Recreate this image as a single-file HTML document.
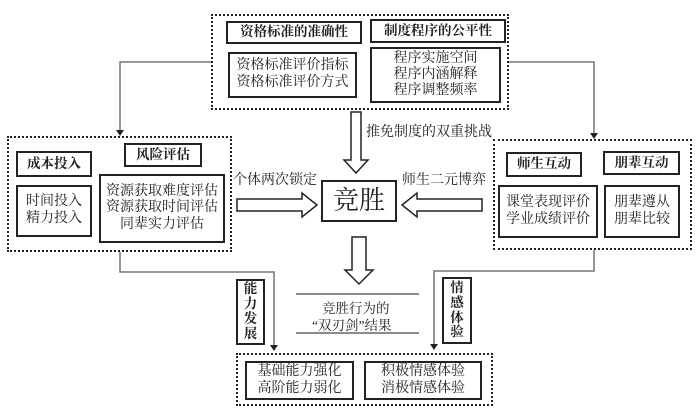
<!DOCTYPE html>
<html><head><meta charset="utf-8"><style>
body{margin:0;width:700px;height:420px;background:#fff;position:relative;overflow:hidden;font-family:"Liberation Serif","Noto Serif CJK SC",serif;color:#222}
.a{position:absolute;box-sizing:border-box}
.dot{border:2px dotted #222}
.b{border:2px solid #222;display:flex;align-items:center;justify-content:center;text-align:center;line-height:1.2;font-size:14px}
.h{font-weight:bold;font-size:13.5px}
.t{position:absolute;font-size:14px;white-space:nowrap}
</style></head><body>
<svg class="a" style="left:0;top:0" width="700" height="420">
<g stroke="#777" stroke-width="1.5" fill="none">
<polyline points="211,62 120,62 120,132"/>
<polyline points="509,62 594,62 594,135"/>
<polyline points="120,252 120,272 274,272 274,347"/>
<polyline points="594,250 594,271 434,271 434,346"/>
</g>
<g fill="#222">
<polygon points="116,130 124,130 120,136"/>
<polygon points="590,133 598,133 594,139"/>
<polygon points="270,345 278,345 274,351"/>
<polygon points="430,344 438,344 434,350"/>
</g>
<g stroke="#222" stroke-width="1.5" fill="#fff">
<polygon points="351,112 361,112 361,160 368,160 356,173 344,160 351,160"/>
<polygon points="237,199 302,199 302,193 317,205 302,217 302,211 237,211"/>
<polygon points="482,199 417,199 417,193 402,205 417,217 417,211 482,211"/>
<polygon points="352,237 366,237 366,270 373,270 359,284 345,270 352,270"/>
</g>
<g stroke="#666" stroke-width="1.5">
<line x1="296" y1="294" x2="419" y2="294"/><line x1="296" y1="333" x2="419" y2="333"/>
</g>
</svg>
<div class="a dot" style="left:211px;top:14px;width:298px;height:96px"></div>
<div class="a b h" style="left:226px;top:21px;width:136px;height:23px">资格标准的准确性</div>
<div class="a b h" style="left:370px;top:19px;width:136px;height:24px">制度程序的公平性</div>
<div class="a b" style="left:228px;top:52px;width:129px;height:46px">资格标准评价指标<br>资格标准评价方式</div>
<div class="a b" style="left:370px;top:47px;width:131px;height:56px;line-height:1.15">程序实施空间<br>程序内涵解释<br>程序调整频率</div>
<div class="t" style="left:366px;top:121px">推免制度的双重挑战</div>

<div class="a dot" style="left:7px;top:136px;width:225px;height:116px"></div>
<div class="a b h" style="left:16px;top:151px;width:76px;height:26px">成本投入</div>
<div class="a b h" style="left:124px;top:143px;width:78px;height:24px">风险评估</div>
<div class="a b" style="left:16px;top:185px;width:76px;height:52px">时间投入<br>精力投入</div>
<div class="a b" style="left:99px;top:174px;width:126px;height:69px;line-height:1.15">资源获取难度评估<br>资源获取时间评估<br>同辈实力评估</div>
<div class="t" style="left:233px;top:169px">个体两次锁定</div>
<div class="t" style="left:402px;top:169px">师生二元博弈</div>
<div class="a b" style="left:321px;top:180px;width:76px;height:42px;font-size:26px">竞胜</div>

<div class="a dot" style="left:493px;top:139px;width:199px;height:111px"></div>
<div class="a b h" style="left:506px;top:152px;width:76px;height:25px">师生互动</div>
<div class="a b h" style="left:603px;top:151px;width:77px;height:24px">朋辈互动</div>
<div class="a b" style="left:498px;top:185px;width:100px;height:53px">课堂表现评价<br>学业成绩评价</div>
<div class="a b" style="left:604px;top:185px;width:76px;height:53px">朋辈遵从<br>朋辈比较</div>

<div class="t" style="left:322px;top:297px;font-size:13.5px">竞胜行为的</div>
<div class="t" style="left:312px;top:314px;font-size:13.5px">“双刃剑”结果</div>
<div class="a b h" style="left:236px;top:279px;width:29px;height:66px;line-height:1.1">能<br>力<br>发<br>展</div>
<div class="a b h" style="left:442px;top:277px;width:30px;height:67px;line-height:1.1">情<br>感<br>体<br>验</div>

<div class="a dot" style="left:236px;top:353px;width:257px;height:53px"></div>
<div class="a b" style="left:245px;top:361px;width:109px;height:39px">基础能力强化<br>高阶能力弱化</div>
<div class="a b" style="left:364px;top:361px;width:118px;height:39px">积极情感体验<br>消极情感体验</div>
</body></html>
